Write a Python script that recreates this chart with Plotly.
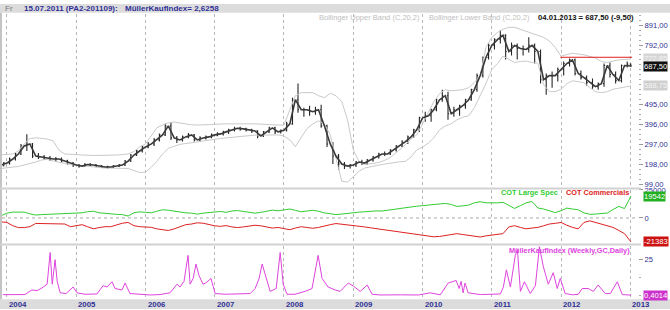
import pandas as pd
import plotly.graph_objects as go

W, H = 670, 310

# ---------------- data ----------------
month_starts = [d.strftime("%Y-%m-%d") for d in pd.date_range("2003-12-01", periods=109, freq="MS")] + ["2013-01-04"]
bar_dates = [d.strftime("%Y-%m-%d") for d in pd.date_range("2003-12-01", periods=109, freq="MS") + pd.Timedelta(days=14)] + ["2013-01-03"]

price_open = [195,
              205, 225, 250, 290, 300, 240, 235, 230, 225, 225, 215, 205,
              195, 190, 198, 195, 190, 185, 185, 190, 195, 215, 245, 265,
              285, 300, 320, 345, 390, 330, 320, 335, 345, 320, 330, 335,
              345, 350, 360, 370, 378, 375, 370, 365, 340, 360, 380, 360,
              368, 400, 520, 470, 470, 460, 470, 390, 300, 240, 200, 190,
              195, 210, 205, 220, 235, 250, 250, 270, 290, 310, 335, 370,
              430, 440, 470, 520, 540, 450, 470, 490, 520, 570, 640, 730,
              790, 820, 840, 760, 790, 775, 770, 790, 760, 620, 640, 640,
              670, 700, 718, 650, 630, 605, 585, 600, 690, 645, 615, 690, 697]
price_high = [210,
              232, 258, 300, 348, 305, 255, 245, 240, 235, 232, 222, 210,
              200, 205, 205, 200, 195, 192, 195, 200, 220, 250, 272, 295,
              310, 330, 352, 400, 408, 340, 342, 355, 350, 338, 342, 352,
              358, 366, 376, 385, 386, 380, 376, 368, 365, 386, 385, 372,
              410, 530, 600, 480, 490, 485, 495, 395, 310, 250, 210, 200,
              215, 222, 225, 240, 256, 262, 274, 295, 318, 342, 375, 435,
              460, 475, 525, 570, 560, 485, 495, 525, 575, 650, 735, 800,
              825, 865, 845, 805, 800, 790, 830, 800, 770, 650, 660, 680,
              710, 725, 725, 665, 640, 625, 605, 700, 705, 660, 695, 710, 700]
price_low = [188,
             198, 218, 245, 265, 230, 225, 220, 215, 210, 208, 198, 185,
             182, 185, 190, 185, 180, 178, 180, 185, 190, 210, 240, 258,
             278, 290, 312, 340, 320, 305, 312, 328, 312, 310, 322, 328,
             338, 342, 350, 362, 366, 362, 355, 328, 335, 355, 350, 352,
             362, 395, 455, 435, 440, 445, 380, 285, 200, 170, 175, 178,
             185, 195, 195, 212, 228, 240, 245, 262, 285, 300, 330, 360,
             410, 410, 462, 510, 420, 435, 440, 475, 515, 560, 630, 720,
             770, 800, 720, 740, 720, 740, 755, 700, 600, 545, 580, 610,
             640, 685, 640, 620, 590, 575, 570, 585, 630, 600, 605, 680, 684]
price_close = [205,
               225, 250, 290, 300, 240, 235, 230, 225, 225, 215, 205, 195,
               190, 198, 195, 190, 185, 185, 190, 195, 215, 245, 265, 285,
               300, 320, 345, 390, 330, 320, 335, 345, 320, 330, 335, 345,
               350, 360, 370, 378, 375, 370, 365, 340, 360, 380, 360, 368,
               400, 520, 470, 470, 460, 470, 390, 300, 240, 200, 190, 195,
               210, 205, 220, 235, 250, 250, 270, 290, 310, 335, 370, 430,
               440, 470, 520, 540, 450, 470, 490, 520, 570, 640, 730, 790,
               820, 840, 760, 790, 775, 770, 790, 760, 620, 640, 640, 670,
               700, 718, 650, 630, 605, 585, 600, 690, 645, 615, 690, 697, 687.5]

boll_upper = [246,
              247, 250, 265, 300, 327, 330, 328, 324, 315, 270, 250, 247,
              247, 245, 243, 243, 243, 243, 245, 245, 247, 250, 262, 285,
              300, 340, 380, 394, 405, 409, 405, 398, 395, 394, 394, 396,
              398, 400, 400, 400, 401, 401, 400, 400, 398, 397, 396, 394,
              394, 470, 540, 555, 555, 555, 540, 530, 552, 540, 510, 420,
              270, 210, 198, 200, 205, 213, 225, 245, 270, 295, 325, 345,
              400, 460, 510, 550, 570, 564, 566, 570, 580, 605, 640, 780,
              830, 855, 870, 880, 880, 870, 858, 848, 841, 830, 812, 780,
              737, 745, 751, 747, 743, 735, 727, 710, 705, 712, 718, 720, 722.85]
boll_lower = [178,
              180, 185, 188, 195, 200, 210, 220, 223, 215, 208, 203, 198,
              195, 190, 186, 183, 180, 180, 180, 180, 180, 178, 168, 158,
              160, 185, 213, 250, 278, 290, 298, 302, 305, 310, 315, 320,
              325, 327, 330, 333, 336, 340, 342, 344, 344, 345, 345, 345,
              340, 320, 286, 330, 376, 400, 415, 400, 345, 229, 115, 110,
              140, 165, 180, 188, 192, 198, 203, 207, 211, 213, 235, 270,
              285, 305, 330, 370, 390, 400, 420, 433, 440, 480, 540, 600,
              670, 700, 737, 720, 705, 710, 712, 705, 702, 595, 560, 560,
              572, 600, 614, 610, 604, 580, 560, 555, 560, 572, 578, 582, 588.75]

cot_large_spec = [2000,
                  4300, 5200, 5400, 5200, 3700, 2600, 3000, 3200, 3200, 3200, 3700, 4000,
                  4300, 4600, 5600, 6000, 4600, 4000, 3700, 3200, 3000, 1700, 4700, 5400,
                  5000, 4600, 6000, 7300, 6900, 6000, 5200, 4600, 4300, 3400, 4300, 4800,
                  5200, 5800, 5000, 6200, 6600, 6000, 5400, 4300, 5000, 6200, 7000, 6400,
                  7200, 8000, 6800, 5500, 6200, 6800, 6000, 4500, 3800, 3000, 3500, 4200,
                  4600, 5200, 5500, 6000, 6300, 6200, 7000, 7500, 8500, 9200, 10000, 10500,
                  11000, 11500, 11800, 12500, 13000, 12000, 10300, 10800, 11500, 13500, 14500, 13500,
                  13200, 13500, 14000, 11000, 8500, 11000, 13500, 14700, 8900, 8000, 6300, 4800,
                  6500, 8800, 8000, 7300, 4500, 3200, 3500, 3900, 4400, 7500, 10300, 8400, 19542]
cot_commercials = [-3500,
                   -4000, -6900, -8600, -8600, -7800, -4900, -4900, -4900, -4900, -5200, -5400, -7800,
                   -6900, -6000, -7800, -9700, -8600, -7800, -7800, -6000, -4700, -4000, -6900, -7800,
                   -8200, -8400, -9700, -10800, -11200, -9700, -7800, -6000, -5400, -4300, -4700, -6000,
                   -7000, -7500, -6800, -8000, -8600, -8000, -7300, -6500, -7000, -8200, -9000, -8500,
                   -9500, -10500, -9000, -7800, -8500, -9200, -8500, -7000, -6000, -5000, -5500, -6200,
                   -6800, -7500, -8000, -8800, -9500, -10000, -11000, -11500, -12300, -13000, -13800, -14300,
                   -15000, -15800, -16800, -16500, -15500, -15000, -14000, -14800, -15500, -16500, -17000, -16000,
                   -15500, -14800, -14000, -8000, -6900, -8500, -9700, -9000, -8400, -7000, -5400, -4800,
                   -4000, -6500, -8400, -9700, -4000, -2600, -4000, -5400, -7000, -8400, -11200, -14000, -21383]

mki_dates = ["2003-12-10", "2004-02-12", "2004-04-05", "2004-05-12", "2004-06-08", "2004-07-04",
             "2004-07-31", "2004-08-16", "2004-08-27", "2004-09-11", "2004-09-22", "2004-10-08",
             "2004-11-08", "2004-12-15", "2005-01-05", "2005-02-16", "2005-04-20", "2005-05-22",
             "2005-06-12", "2005-07-08", "2005-07-24", "2005-08-30", "2005-09-15", "2005-10-11",
             "2005-12-03", "2006-01-25", "2006-03-18", "2006-05-10", "2006-06-16", "2006-07-02",
             "2006-07-23", "2006-08-13", "2006-08-24", "2006-09-09", "2006-09-24", "2006-10-10",
             "2006-10-31", "2006-11-16", "2006-12-12", "2007-01-03", "2007-02-25", "2007-05-15",
             "2007-07-07", "2007-08-02", "2007-08-23", "2007-09-08", "2007-09-24", "2007-10-20",
             "2007-11-21", "2007-12-12", "2007-12-28", "2008-01-17", "2008-02-28", "2008-04-21",
             "2008-05-28", "2008-06-29", "2008-07-20", "2008-08-21", "2008-09-27", "2008-10-23",
             "2008-12-05", "2009-01-01", "2009-02-06", "2009-03-15", "2009-04-10", "2009-05-22",
             "2009-09-06", "2009-12-10", "2010-02-11", "2010-04-04", "2010-05-16", "2010-06-06",
             "2010-06-27", "2010-07-13", "2010-07-23", "2010-08-03", "2010-08-13", "2010-08-29",
             "2010-11-01", "2011-02-15", "2011-03-03", "2011-03-19", "2011-04-09", "2011-05-05",
             "2011-05-16", "2011-06-01", "2011-06-22", "2011-07-23", "2011-08-19", "2011-09-09",
             "2011-09-30", "2011-10-26", "2011-11-21", "2011-12-12", "2011-12-28", "2012-01-23",
             "2012-03-01", "2012-04-01", "2012-04-22", "2012-05-24", "2012-06-19", "2012-07-15",
             "2012-08-21", "2012-09-17", "2012-10-24", "2012-11-19", "2013-01-04"]
mki_values = [0.7, 0.5, 0.8, 4, 3.5, 5.4,
              8, 30, 8, 25, 10, 2,
              1.5, 6, 2, 1, 1.2, 7,
              6, 9.7, 5, 4, 8.8, 1.5,
              0.8, 0.5, 0.8, 2, 8, 6,
              10, 28, 8, 12, 22, 14,
              8, 9, 12, 1.5, 1, 1.2,
              1.5, 5, 12, 22, 15, 3,
              5, 30, 8, 1, 1, 3,
              5, 28, 12, 6, 4, 3,
              8.8, 6.7, 3, 7.4, 1, 0.5,
              0.6, 0.5, 2, 0.6, 8.8, 9.7,
              10.6, 5, 10, 2, 8.8, 2,
              0.8, 1.2, 6, 18, 6, 28,
              32, 3, 9.7, 1.5, 7, 34,
              20, 8, 16, 5, 12, 1.5,
              0.6, 1, 5, 5, 3, 7.4,
              1.5, 1.5, 9.7, 0.8, 0.4014]

price_ticks = [99, 198, 297, 396, 495, 792, 891]
price_ticktext = ["99,00", "198,00", "297,00", "396,00", "495,00", "792,00", "891,00"]
years = list(range(2004, 2014))
resistance_level = 731
resistance_start, resistance_end = "2011-12-28", "2013-01-10"

# ---------------- styling ----------------
NAVY = "#2f2f94"
FONT = "Liberation Sans"
GREEN = "#33cc33"
RED = "#dd2222"
MAG = "#dd44dd"
BAND = "#c9c9c9"
BARCOL = "#262626"

def px_x(p):
    return p / W

def px_y(p):
    return 1 - p / H

fig = go.Figure()

fig.add_trace(go.Scatter(x=month_starts, y=boll_upper, mode="lines",
                         line=dict(color=BAND, width=1), xaxis="x", yaxis="y", hoverinfo="skip"))
fig.add_trace(go.Scatter(x=month_starts, y=boll_lower, mode="lines",
                         line=dict(color=BAND, width=1), xaxis="x", yaxis="y", hoverinfo="skip"))
fig.add_trace(go.Ohlc(x=bar_dates, open=price_open, high=price_high, low=price_low, close=price_close,
                      increasing=dict(line=dict(color=BARCOL, width=1.1)),
                      decreasing=dict(line=dict(color=BARCOL, width=1.1)),
                      tickwidth=0.3, xaxis="x", yaxis="y"))
# continuous path through the month-start prices
fig.add_trace(go.Scatter(x=month_starts, y=price_open[:-1] + [price_close[-1]], mode="lines",
                         line=dict(color="#3a3a3a", width=1.6), xaxis="x", yaxis="y", hoverinfo="skip"))
fig.add_trace(go.Scatter(x=month_starts, y=cot_large_spec, mode="lines",
                         line=dict(color=GREEN, width=1), xaxis="x", yaxis="y2"))
fig.add_trace(go.Scatter(x=month_starts, y=cot_commercials, mode="lines",
                         line=dict(color=RED, width=1), xaxis="x", yaxis="y2"))
fig.add_trace(go.Scatter(x=mki_dates, y=mki_values, mode="lines",
                         line=dict(color=MAG, width=1), xaxis="x", yaxis="y3"))

tickfont = dict(family=FONT, size=7.6, color=NAVY)
common_y = dict(side="right", anchor="x", showgrid=False, zeroline=False, ticks="outside",
                ticklen=4, tickcolor="#999999", tickfont=tickfont, showline=False, fixedrange=True)

fig.update_layout(
    width=W, height=H, margin=dict(l=0, r=0, t=0, b=0),
    paper_bgcolor="white", plot_bgcolor="white", showlegend=False,
    font=dict(family=FONT, size=8),
    xaxis=dict(type="date", range=["2003-12-06", "2013-02-10"], domain=[px_x(2), px_x(638)],
               anchor="y3", showgrid=True, gridcolor="#b8b8b8", griddash="dot", gridwidth=1,
               tick0="2004-01-01", dtick="M12", showticklabels=False, ticks="",
               zeroline=False, showline=False, rangeslider=dict(visible=False)),
    yaxis=dict(domain=[px_y(187), px_y(10)], range=[81, 947], tickvals=price_ticks,
               ticktext=price_ticktext, minor=dict(dtick=24.75, ticklen=2, tickcolor="#aaaaaa", ticks="outside"),
               **common_y),
    yaxis2=dict(domain=[px_y(244), px_y(189)], range=[-23300, 25000], tickvals=[0, 25000],
                ticktext=["0", "25000"], **common_y),
    yaxis3=dict(domain=[px_y(300), px_y(246)], range=[-2.4, 34.5], tickvals=[25],
                ticktext=["25"], minor=dict(dtick=12.5, ticklen=2, tickcolor="#aaaaaa", ticks="outside"),
                **common_y),
)

shapes = []
shapes.append(dict(type="rect", xref="paper", yref="paper", x0=0, x1=1, y0=px_y(9), y1=1,
                   fillcolor="#dcdcdc", line=dict(width=0), layer="below"))
shapes.append(dict(type="rect", xref="paper", yref="paper", x0=0, x1=1, y0=0, y1=px_y(300),
                   fillcolor="#dcdcdc", line=dict(width=0), layer="below"))
shapes.append(dict(type="rect", xref="paper", yref="paper", x0=0, x1=px_x(2), y0=px_y(300), y1=px_y(9),
                   fillcolor="#c4c4c4", line=dict(width=0)))
for yy in (187.5, 244.5):
    shapes.append(dict(type="line", xref="paper", yref="paper", x0=0, x1=px_x(641), y0=px_y(yy), y1=px_y(yy),
                       line=dict(color="#d2d2d2", width=2)))
shapes.append(dict(type="line", xref="x domain", yref="y2", x0=0, x1=1, y0=0, y1=0,
                   line=dict(color="#aaaaaa", width=1, dash="dot")))
shapes.append(dict(type="line", xref="x", yref="y", x0=resistance_start, x1=resistance_end,
                   y0=resistance_level, y1=resistance_level, line=dict(color="#e02020", width=1)))
fig.update_layout(shapes=shapes)

ann = []
def text(x, y, s, color, size=8, bold=False, xanchor="left"):
    ann.append(dict(xref="paper", yref="paper", x=px_x(x), y=px_y(y), text=("<b>%s</b>" % s) if bold else s,
                    showarrow=False, xanchor=xanchor, yanchor="middle",
                    font=dict(family=FONT, size=size, color=color)))

text(3, 5, "Fr", "#777777", 8)
text(22, 5, "15.07.2011 (PA2-201109):", NAVY, 8, True)
text(123, 5, "MüllerKaufIndex= 2,6258", NAVY, 8, True)
text(317, 13.5, "Bollinger Upper Band (C,20,2)", "#c0c0c0", 7.5)
text(427, 13.5, "Bollinger Lower Band (C,20,2)", "#c0c0c0", 7.5)
text(536, 13.5, "04.01.2013 = 687,50 (-9,50)", "#111111", 7.7, True)
text(499, 191.5, "COT Large Spec", GREEN, 7.3, True)
text(564, 191.5, "COT Commercials", RED, 7.3, True)
text(507, 251, "MüllerKaufIndex (Weekly,GC,Daily)", MAG, 7.3, True)

def box(yref, yval, s, bg, fg="white"):
    ann.append(dict(xref="paper", yref=yref, x=px_x(643), y=yval, text=s, showarrow=False,
                    xanchor="left", yanchor="middle", bgcolor=bg, borderpad=0,
                    font=dict(family=FONT, size=7.6, color=fg)))

box("y", boll_upper[-1], "722,85", "#d6d6d6", "#f4f4f4")
box("y", price_close[-1], "687,50", "#111111")
box("y", boll_lower[-1], "588,75", "#cfcfcf", "#f4f4f4")
box("y2", cot_large_spec[-1], "19542", "#22b022")
box("y2", cot_commercials[-1], "-21383", "#cc1111")
box("y3", mki_values[-1], "0,4014", "#cc33cc")

for yr in years:
    ann.append(dict(xref="x", yref="paper", x="%d-01-01" % yr, y=px_y(305), text="<b>%d</b>" % yr,
                    showarrow=False, xanchor="left", yanchor="middle",
                    font=dict(family=FONT, size=7.8, color=NAVY)))

fig.update_layout(annotations=ann)
fig.write_html("out.html")
